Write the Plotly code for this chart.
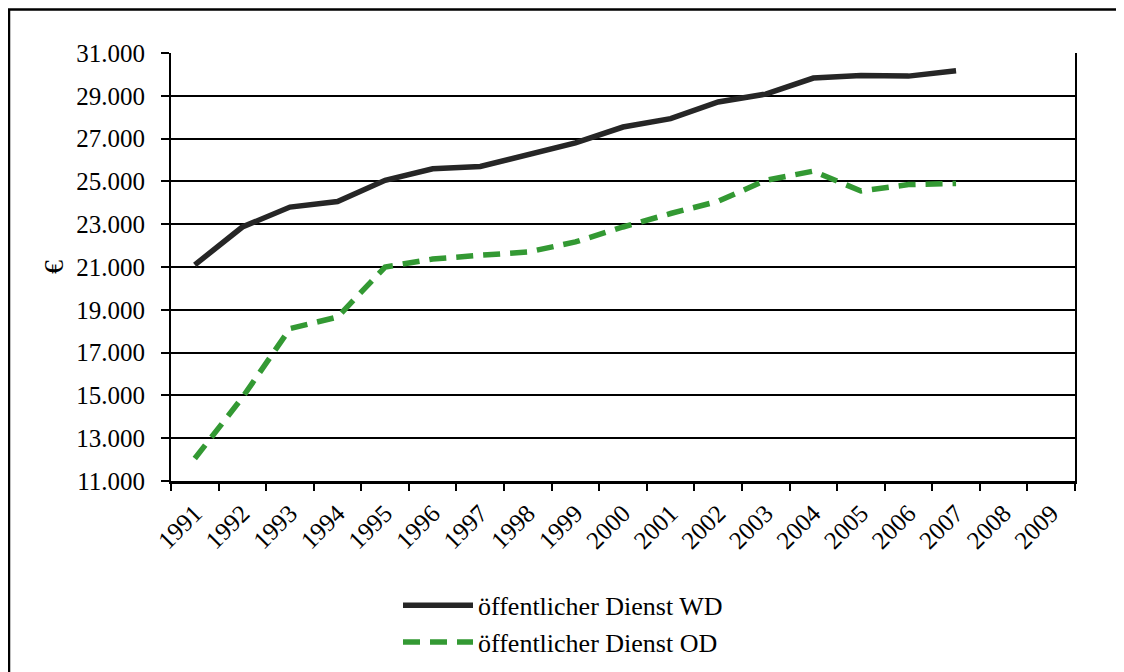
import plotly.graph_objects as go

years = [str(y) for y in range(1991, 2010)]
wd_years = [str(y) for y in range(1991, 2008)]
wd_values = [21100, 22870, 23800, 24060, 25050, 25590, 25700, 26270, 26800, 27540,
             27930, 28710, 29080, 29830, 29950, 29920, 30170]
od_values = [12050, 14900, 18120, 18660, 21000, 21370, 21550, 21700, 22170, 22870,
             23500, 24070, 25050, 25480, 24550, 24850, 24900]
y_ticks = list(range(11000, 31001, 2000))
y_tick_labels = [f"{v:,}".replace(",", ".") for v in y_ticks]

FONT = "Liberation Serif, Times New Roman, serif"
FS = 25

# page offset (body margin) of 8px
OFF = 8
W, H = 1124, 672
L, R, T, B = 171 - OFF, 1075 - OFF, 52.5 - OFF, 481 - OFF
pw, ph = R - L, B - T

def px(x):
    return (x - OFF - L) / pw

def py(y):
    return (B - (y - OFF)) / ph

fig = go.Figure()
fig.add_trace(go.Scatter(
    x=wd_years, y=wd_values, mode="lines", name="öffentlicher Dienst WD",
    line=dict(color="#262626", width=5.5)))
fig.add_trace(go.Scatter(
    x=wd_years, y=od_values, mode="lines", name="öffentlicher Dienst OD",
    line=dict(color="#339933", width=5.5, dash="17px,10px")))

fig.update_layout(
    width=W, height=H,
    margin=dict(l=L, r=W - R, t=T, b=H - B),
    paper_bgcolor="white", plot_bgcolor="white",
    font=dict(family=FONT, size=FS, color="black"),
    showlegend=True,
    legend=dict(x=px(398), y=py(582), xanchor="left", yanchor="top",
                font=dict(family=FONT, size=26, color="black"),
                itemwidth=70, tracegroupgap=0, bgcolor="rgba(0,0,0,0)"),
    xaxis=dict(type="category", categoryorder="array", categoryarray=years,
               range=[-0.5, len(years) - 0.5],
               tickmode="array", tickvals=years, ticktext=years,
               tickangle=-45, ticks="outside", tickson="boundaries",
               ticklen=7, tickwidth=2, tickcolor="black",
               ticklabelstandoff=5,
               showline=True, linecolor="black", linewidth=2.5,
               showgrid=False, zeroline=False,
               tickfont=dict(family=FONT, size=FS, color="black")),
    yaxis=dict(range=[11000, 31000], tickmode="array", tickvals=y_ticks,
               ticktext=y_tick_labels, ticks="outside", ticklen=8,
               tickwidth=2, tickcolor="black",
               ticklabelstandoff=11,
               showline=True, linecolor="black", linewidth=2, mirror=True,
               showgrid=True, gridcolor="black", gridwidth=1.5,
               zeroline=False,
               title=dict(text="€", standoff=4,
                          font=dict(family=FONT, size=28, color="black")),
               tickfont=dict(family=FONT, size=FS, color="black")),
    shapes=[dict(type="rect", xref="paper", yref="paper",
                 x0=px(9), x1=px(1140), y0=py(700), y1=py(9),
                 line=dict(color="black", width=2.5), fillcolor="rgba(0,0,0,0)",
                 layer="above")],
)

fig.write_html("out.html")
